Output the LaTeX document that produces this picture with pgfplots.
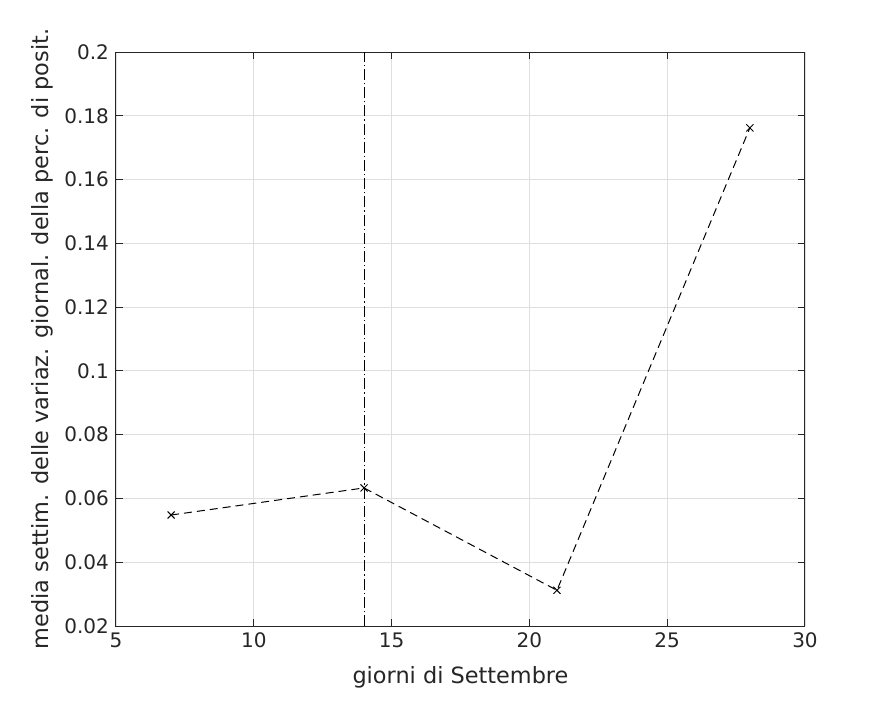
\documentclass[border=0pt]{standalone}
\usepackage{fontspec}
\setmainfont{DejaVu Sans}
\usepackage{pgfplots}
\pgfplotsset{compat=1.18}
\definecolor{axgray}{gray}{0.15}
\begin{document}
\begin{tikzpicture}
\useasboundingbox (-58pt,-38.5pt) rectangle (387.5pt,313pt);
\begin{axis}[
  at={(0,0)}, anchor=south west,
  scale only axis,
  width=344.5pt, height=287pt,
  xmin=5, xmax=30, ymin=0.02, ymax=0.2,
  xtick={5,10,...,30},
  ytick={0.02,0.04,...,0.2},
  yticklabels={0.02,0.04,0.06,0.08,0.1,0.12,0.14,0.16,0.18,0.2},
  /pgf/number format/assume math mode=true,
  tick label style={font=\fontsize{10}{12}\selectfont, text=axgray},
  label style={font=\fontsize{11.2}{13}\selectfont, text=axgray},
  xlabel={giorni di Settembre},
  ylabel={media settim. delle variaz. giornal. della perc. di posit.},
  xlabel style={yshift=-2.5pt},
  ylabel style={yshift=-1pt},
  grid=major,
  major grid style={gray!25, line width=0.4pt},
  axis line style={axgray, line width=0.5pt},
  tick style={axgray, line width=0.5pt},
  tick align=inside,
  major tick length=3.5pt,
  xtick pos=both, ytick pos=both,
]
\addplot[black, line width=0.5pt, dash pattern=on 5.5pt off 1.5pt on 0.6pt off 1.5pt] coordinates {(14,0.02) (14,0.2)};
\addplot[black, line width=0.5pt, dash pattern=on 4pt off 2.5pt, mark=x, mark size=2.5pt, mark options={solid}] coordinates {
(7,0.0548) (14,0.0633) (21,0.0312) (28,0.1762)};
\end{axis}
\end{tikzpicture}
\end{document}
